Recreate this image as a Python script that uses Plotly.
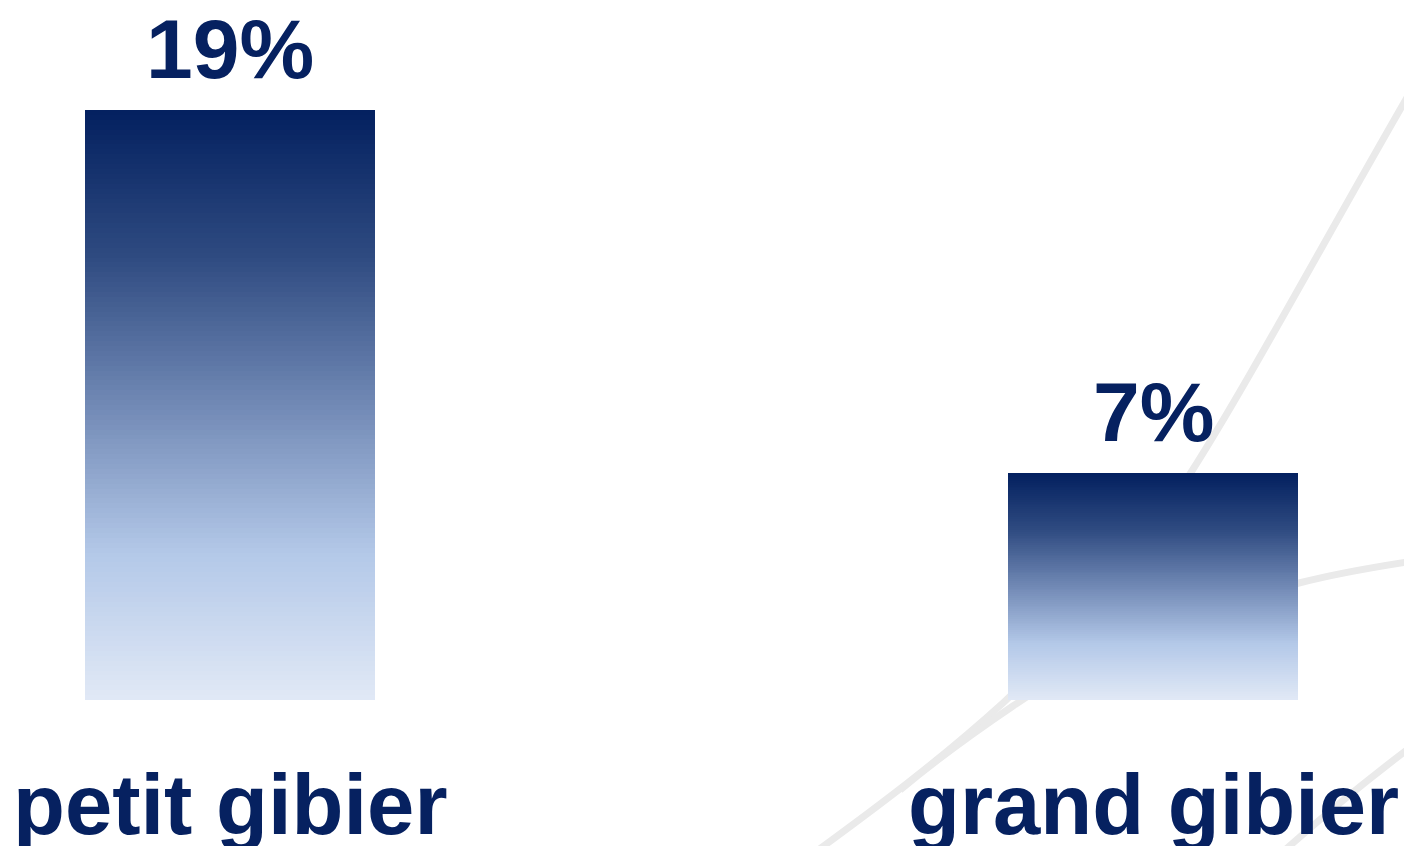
import plotly.graph_objects as go

# ---- data ----
categories = ["petit gibier", "grand gibier"]
values = [19, 7.3]          # percent (bar heights)
value_labels = ["19%", "7%"]

# ---- style ----
W, H = 1404, 846
NAVY = "#062160"
GRAD_STOPS = [(0.0, (3, 32, 95)), (0.25, (47, 75, 129)), (0.5, (113, 137, 181)),
              (0.75, (179, 200, 232)), (1.0, (225, 233, 246))]
N_LAYERS = 120

def grad(t):
    for (t0, c0), (t1, c1) in zip(GRAD_STOPS[:-1], GRAD_STOPS[1:]):
        if t <= t1:
            f = (t - t0) / (t1 - t0)
            return "rgb(%d,%d,%d)" % tuple(round(a + (b - a) * f) for a, b in zip(c0, c1))
    return "rgb(%d,%d,%d)" % GRAD_STOPS[-1][1]

# pixel geometry of the plot (full-figure plot area)
base_px, top19_px = 700, 110
px_per_unit = (base_px - top19_px) / 19.0
y_range = [-(H - base_px) / px_per_unit, base_px / px_per_unit]
cat_px = 923.0
x_range = [-230 / cat_px, (W - 230) / cat_px]
bar_width = 290 / cat_px

fig = go.Figure()
for k in range(N_LAYERS):
    frac = 1 - k / N_LAYERS
    t = (k + 0.5) / N_LAYERS
    fig.add_trace(go.Bar(
        x=categories, y=[v * frac for v in values], width=bar_width,
        marker=dict(color=grad(t), line=dict(width=0)),
        hoverinfo="skip", showlegend=False))

annotations = []
for c, v, lab in zip(categories, values, value_labels):
    annotations.append(dict(x=c, y=v, xref="x", yref="y", text=lab, showarrow=False,
                            yanchor="bottom", yshift=12,
                            font=dict(family="Liberation Sans", size=84, color=NAVY, weight="bold")))
    annotations.append(dict(x=c, y=0, xref="x", yref="y", text=c, showarrow=False,
                            yanchor="top", yshift=-55,
                            font=dict(family="Liberation Sans", size=85, color=NAVY, weight="bold")))

def P(x, y):
    return "%.5f,%.5f" % (x / W, 1 - y / H)

line_style = dict(color="#eaeaea", width=7)
paths = [
    # long curve from top right down to bottom left (passes behind right bar)
    "M" + P(1420, 75) + " C" + P(1330, 230) + " " + P(1250, 380) + " " + P(1190, 474)
    + " C" + P(1120, 580) + " " + P(1060, 650) + " " + P(1003, 703)
    + " C" + P(940, 760) + " " + P(880, 805) + " " + P(810, 856),
    # curve from right edge passing behind right bar toward bottom left
    "M" + P(1420, 560) + " C" + P(1380, 566) + " " + P(1330, 575) + " " + P(1299, 583)
    + " C" + P(1180, 615) + " " + P(1080, 660) + " " + P(1013, 706)
    + " C" + P(970, 735) + " " + P(930, 765) + " " + P(900, 790),
    # bottom right short curve
    "M" + P(1420, 740) + " C" + P(1380, 770) + " " + P(1330, 810) + " " + P(1285, 850),
]
shapes = [dict(type="path", path=p, xref="paper", yref="paper", line=line_style, layer="below")
          for p in paths]

fig.update_layout(
    width=W, height=H, margin=dict(l=0, r=0, t=0, b=0),
    paper_bgcolor="white", plot_bgcolor="rgba(0,0,0,0)",
    barmode="overlay", bargap=0,
    xaxis=dict(range=x_range, visible=False, fixedrange=True),
    yaxis=dict(range=y_range, visible=False, fixedrange=True),
    annotations=annotations, shapes=shapes, showlegend=False,
)
fig.write_html("out.html", config={"displayModeBar": False},
               post_script="document.body.style.margin='0';document.body.style.overflow='hidden';")
